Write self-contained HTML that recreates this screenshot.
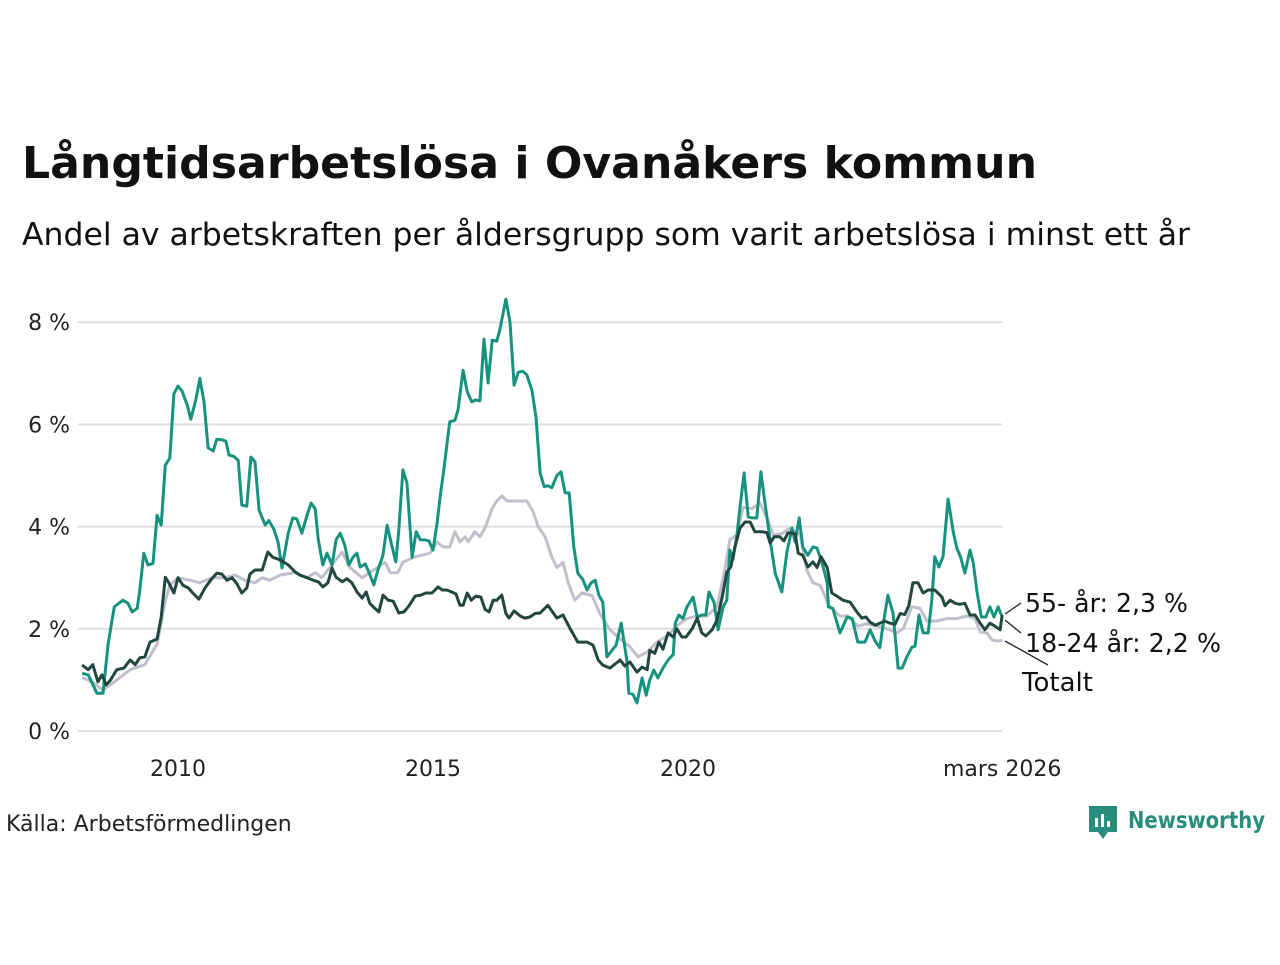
<!DOCTYPE html>
<html><head><meta charset="utf-8">
<style>
body{margin:0;background:#fff;width:1280px;height:960px;overflow:hidden;font-family:"Liberation Sans","DejaVu Sans",sans-serif;}
</style></head>
<body>
<svg width="1280" height="960" xmlns="http://www.w3.org/2000/svg">
<text x="22" y="178" font-size="44" font-weight="bold" fill="#111" textLength="1015" lengthAdjust="spacingAndGlyphs" font-family="'DejaVu Sans','Liberation Sans',sans-serif">Långtidsarbetslösa i Ovanåkers kommun</text>
<text x="22" y="245" font-size="31" fill="#111" textLength="1168" lengthAdjust="spacingAndGlyphs" font-family="'DejaVu Sans','Liberation Sans',sans-serif">Andel av arbetskraften per åldersgrupp som varit arbetslösa i minst ett år</text>
<g id="grid"></g>
<g id="ylab" font-size="22" fill="#222" text-anchor="end" font-family="'DejaVu Sans','Liberation Sans',sans-serif"></g>
<g id="xlab" font-size="22" fill="#222" text-anchor="middle" font-family="'DejaVu Sans','Liberation Sans',sans-serif"></g>
<g id="lines"></g>
<g stroke="#222" stroke-width="1.3" fill="none">
<path d="M1005 614 L1021 603"/><path d="M1005 620 L1021 633"/><path d="M1005 641 L1048 665"/>
</g>
<g font-size="26" fill="#111" font-family="'DejaVu Sans','Liberation Sans',sans-serif">
<text x="1025" y="612" textLength="163" lengthAdjust="spacingAndGlyphs">55- år: 2,3 %</text>
<text x="1025" y="652" textLength="196" lengthAdjust="spacingAndGlyphs">18-24 år: 2,2 %</text>
<text x="1022" y="691">Totalt</text>
</g>
<text x="6" y="831" font-size="22" fill="#222" font-family="'DejaVu Sans','Liberation Sans',sans-serif">Källa: Arbetsförmedlingen</text>
<g>
<path d="M1089 806 H1117 V832 H1108 L1103 839 L1098 832 H1089 Z" fill="#2a8c7c"/>
<rect x="1095" y="818" width="3" height="9" fill="#fff"/><rect x="1101" y="814" width="3" height="13" fill="#fff"/><rect x="1107" y="821" width="3" height="6" fill="#fff"/>
<text x="1128" y="828" font-size="23" font-weight="bold" fill="#2a8c7c" textLength="137" lengthAdjust="spacingAndGlyphs" font-family="'DejaVu Sans','Liberation Sans',sans-serif">Newsworthy</text>
</g>
</svg>
<script>
const yTicks=[0,2,4,6,8];
const yTickLabels=["0 %","2 %","4 %","6 %","8 %"];
const xTicks=[2010,2015,2020,2026.16];
const xTickLabels=["2010","2015","2020","mars 2026"];
const datesTot=[2008.12,2008.33,2008.53,2008.8,2009.06,2009.35,2009.59,2009.75,2009.84,2010,2010.24,2010.43,2010.67,2010.92,2011.12,2011.31,2011.51,2011.65,2011.8,2012.0,2012.29,2012.53,2012.69,2012.82,2012.98,2013.22,2013.37,2013.61,2013.76,2014.06,2014.16,2014.31,2014.41,2014.61,2014.94,2015.08,2015.2,2015.33,2015.43,2015.53,2015.63,2015.69,2015.82,2015.92,2016.02,2016.16,2016.25,2016.35,2016.45,2016.84,2016.96,2017.06,2017.2,2017.33,2017.43,2017.55,2017.65,2017.78,2017.92,2018.12,2018.27,2018.47,2018.67,2018.86,2019.02,2019.2,2019.39,2019.59,2019.8,2019.98,2020.18,2020.37,2020.57,2020.73,2020.82,2020.96,2021.08,2021.25,2021.41,2021.55,2021.67,2021.84,2022.0,2022.2,2022.33,2022.45,2022.59,2022.78,2022.98,2023.14,2023.33,2023.51,2023.71,2023.9,2024.1,2024.22,2024.39,2024.55,2024.69,2024.88,2025.08,2025.27,2025.47,2025.63,2025.73,2025.86,2025.96,2026.08,2026.16];
const valsTot=[1.05,0.95,0.8,1.0,1.2,1.3,1.7,2.55,2.85,3.0,2.95,2.9,3.0,3.0,3.05,2.95,2.9,3.0,2.95,3.05,3.1,3.0,3.1,3.0,3.2,3.5,3.2,3.0,3.1,3.3,3.1,3.1,3.3,3.4,3.48,3.7,3.6,3.6,3.9,3.7,3.8,3.7,3.9,3.8,3.97,4.36,4.5,4.6,4.5,4.5,4.3,4.0,3.8,3.4,3.2,3.3,2.9,2.56,2.7,2.65,2.3,1.98,1.8,1.65,1.45,1.55,1.74,1.86,2.07,2.2,2.25,2.25,2.43,3.2,3.74,3.84,4.38,4.35,4.46,4.17,3.84,3.86,3.97,3.84,3.15,2.9,2.85,2.43,2.25,2.25,2.05,2.1,2.05,2.0,1.92,2.0,2.43,2.4,2.15,2.15,2.2,2.2,2.25,2.2,1.94,1.92,1.78,1.76,1.78];
const datesYoung=[2008.12,2008.24,2008.41,2008.53,2008.63,2008.75,2008.92,2009.02,2009.1,2009.2,2009.25,2009.33,2009.41,2009.51,2009.59,2009.67,2009.75,2009.84,2009.92,2010.0,2010.08,2010.18,2010.25,2010.35,2010.43,2010.51,2010.59,2010.69,2010.76,2010.86,2010.94,2011.0,2011.1,2011.18,2011.25,2011.35,2011.43,2011.51,2011.59,2011.71,2011.78,2011.88,2011.96,2012.04,2012.16,2012.25,2012.33,2012.43,2012.53,2012.61,2012.69,2012.75,2012.84,2012.92,2013.02,2013.1,2013.18,2013.27,2013.35,2013.43,2013.51,2013.57,2013.67,2013.75,2013.84,2013.92,2014.02,2014.1,2014.18,2014.27,2014.33,2014.41,2014.49,2014.59,2014.67,2014.75,2014.84,2014.92,2015.0,2015.08,2015.14,2015.22,2015.29,2015.33,2015.43,2015.49,2015.59,2015.67,2015.76,2015.84,2015.92,2016.0,2016.08,2016.16,2016.25,2016.31,2016.43,2016.51,2016.59,2016.67,2016.76,2016.84,2016.94,2017.02,2017.1,2017.18,2017.25,2017.33,2017.43,2017.51,2017.59,2017.67,2017.76,2017.84,2017.94,2018.02,2018.1,2018.18,2018.25,2018.33,2018.41,2018.51,2018.59,2018.69,2018.8,2018.84,2018.92,2019.0,2019.1,2019.18,2019.25,2019.33,2019.41,2019.51,2019.61,2019.71,2019.75,2019.82,2019.9,2019.98,2020.1,2020.18,2020.27,2020.35,2020.41,2020.51,2020.59,2020.69,2020.76,2020.82,2020.88,2020.96,2021.02,2021.1,2021.18,2021.25,2021.35,2021.43,2021.51,2021.61,2021.71,2021.84,2021.94,2022.04,2022.1,2022.18,2022.25,2022.35,2022.45,2022.53,2022.63,2022.73,2022.75,2022.84,2022.98,2023.12,2023.22,2023.33,2023.47,2023.57,2023.67,2023.76,2023.82,2023.92,2024.02,2024.12,2024.2,2024.29,2024.39,2024.45,2024.53,2024.61,2024.71,2024.78,2024.84,2024.92,2025.0,2025.1,2025.2,2025.27,2025.35,2025.43,2025.53,2025.59,2025.67,2025.75,2025.84,2025.92,2026.0,2026.08,2026.16];
const valsYoung=[1.13,1.1,0.74,0.74,1.7,2.43,2.56,2.5,2.33,2.4,2.76,3.48,3.25,3.28,4.22,4.03,5.2,5.34,6.6,6.75,6.65,6.38,6.1,6.48,6.9,6.44,5.54,5.48,5.71,5.7,5.67,5.4,5.37,5.3,4.42,4.4,5.36,5.27,4.32,4.03,4.12,3.95,3.7,3.19,3.87,4.17,4.15,3.87,4.22,4.46,4.35,3.74,3.25,3.48,3.25,3.74,3.87,3.64,3.25,3.4,3.48,3.21,3.27,3.09,2.86,3.15,3.44,4.03,3.68,3.31,3.93,5.11,4.85,3.4,3.9,3.74,3.74,3.72,3.54,4.07,4.58,5.17,5.75,6.05,6.08,6.28,7.06,6.64,6.44,6.48,6.46,7.67,6.81,7.65,7.63,7.85,8.45,8.0,6.77,7.02,7.04,6.97,6.67,6.14,5.05,4.78,4.8,4.76,5.0,5.07,4.66,4.66,3.6,3.09,2.96,2.76,2.9,2.95,2.66,2.52,1.45,1.58,1.68,2.11,1.39,0.74,0.72,0.55,1.04,0.7,1.0,1.19,1.04,1.23,1.39,1.5,2.11,2.27,2.2,2.43,2.62,2.23,2.27,2.27,2.72,2.52,1.98,2.43,2.56,3.54,3.35,3.84,4.38,5.05,4.19,4.17,4.17,5.07,4.46,3.74,3.09,2.72,3.5,3.97,3.7,4.17,3.6,3.44,3.6,3.58,3.29,2.9,2.43,2.4,1.92,2.23,2.2,1.74,1.74,1.98,1.76,1.63,2.04,2.66,2.31,1.23,1.23,1.45,1.64,1.66,2.27,1.92,1.92,2.56,3.41,3.21,3.41,4.54,3.9,3.58,3.39,3.09,3.54,3.31,2.7,2.23,2.23,2.43,2.23,2.43,2.23];
const datesOld=[2008.12,2008.24,2008.33,2008.43,2008.51,2008.59,2008.67,2008.8,2008.94,2009.06,2009.16,2009.25,2009.35,2009.45,2009.59,2009.67,2009.75,2009.82,2009.92,2010,2010.1,2010.2,2010.29,2010.41,2010.53,2010.67,2010.76,2010.86,2010.96,2011.06,2011.16,2011.25,2011.35,2011.41,2011.51,2011.65,2011.76,2011.86,2012.0,2012.16,2012.29,2012.39,2012.53,2012.65,2012.75,2012.84,2012.94,2013.02,2013.1,2013.22,2013.31,2013.41,2013.51,2013.61,2013.69,2013.76,2013.86,2013.94,2014.02,2014.12,2014.22,2014.33,2014.43,2014.53,2014.65,2014.76,2014.86,2014.98,2015.1,2015.18,2015.27,2015.37,2015.45,2015.53,2015.59,2015.67,2015.75,2015.84,2015.94,2016.02,2016.1,2016.18,2016.25,2016.35,2016.43,2016.49,2016.59,2016.71,2016.8,2016.9,2017.0,2017.1,2017.25,2017.43,2017.55,2017.69,2017.84,2018.02,2018.14,2018.24,2018.33,2018.47,2018.67,2018.76,2018.86,2019.0,2019.1,2019.2,2019.25,2019.35,2019.43,2019.51,2019.61,2019.71,2019.78,2019.88,2019.96,2020.08,2020.18,2020.27,2020.35,2020.47,2020.57,2020.67,2020.76,2020.84,2020.92,2021.02,2021.12,2021.22,2021.31,2021.45,2021.55,2021.61,2021.69,2021.8,2021.88,2021.96,2022.1,2022.16,2022.25,2022.35,2022.45,2022.53,2022.61,2022.73,2022.82,2022.92,2023.04,2023.18,2023.31,2023.41,2023.49,2023.57,2023.67,2023.76,2023.86,2023.96,2024.06,2024.16,2024.25,2024.33,2024.41,2024.51,2024.61,2024.71,2024.84,2024.98,2025.04,2025.14,2025.24,2025.33,2025.43,2025.53,2025.63,2025.73,2025.82,2025.92,2026.02,2026.12,2026.16];
const valsOld=[1.29,1.2,1.3,0.96,1.1,0.9,0.99,1.2,1.23,1.39,1.3,1.43,1.45,1.74,1.8,2.23,3.01,2.9,2.7,3.0,2.85,2.8,2.7,2.58,2.8,2.99,3.09,3.07,2.95,3.0,2.87,2.7,2.8,3.07,3.15,3.15,3.5,3.4,3.35,3.25,3.12,3.05,3.0,2.95,2.92,2.82,2.9,3.19,3.01,2.92,2.98,2.9,2.72,2.6,2.72,2.5,2.4,2.33,2.66,2.56,2.54,2.31,2.33,2.45,2.64,2.66,2.7,2.7,2.82,2.76,2.76,2.72,2.68,2.46,2.46,2.7,2.56,2.64,2.62,2.38,2.33,2.56,2.56,2.66,2.3,2.21,2.35,2.25,2.21,2.23,2.3,2.31,2.46,2.21,2.27,2.0,1.74,1.74,1.68,1.39,1.29,1.23,1.39,1.27,1.35,1.15,1.25,1.2,1.58,1.52,1.74,1.6,1.92,1.84,2.0,1.84,1.84,2.0,2.21,1.92,1.86,1.98,2.17,2.62,3.11,3.21,3.6,3.97,4.09,4.09,3.9,3.9,3.88,3.68,3.8,3.8,3.72,3.88,3.86,3.48,3.44,3.21,3.31,3.2,3.41,3.2,2.7,2.64,2.56,2.52,2.33,2.21,2.23,2.13,2.07,2.11,2.15,2.11,2.09,2.3,2.28,2.45,2.9,2.9,2.7,2.76,2.76,2.62,2.45,2.56,2.5,2.48,2.5,2.27,2.27,2.11,1.98,2.11,2.05,1.98,2.27];

const NS='http://www.w3.org/2000/svg';
function xs(d){return 178+(d-2010)*51;}
function ys(v){return 731-v*51.1;}
const grid=document.getElementById('grid'),ylab=document.getElementById('ylab'),xlab=document.getElementById('xlab'),lines=document.getElementById('lines');
yTicks.forEach((t,i)=>{
  const l=document.createElementNS(NS,'line');
  l.setAttribute('x1',78);l.setAttribute('x2',1002);l.setAttribute('y1',ys(t));l.setAttribute('y2',ys(t));
  l.setAttribute('stroke','#e0e0e3');l.setAttribute('stroke-width','2');
  
  
  grid.appendChild(l);
  const tx=document.createElementNS(NS,'text');
  tx.setAttribute('x',70);tx.setAttribute('y',ys(t)+8);tx.textContent=yTickLabels[i];
  
  
  ylab.appendChild(tx);
});
xTicks.forEach((t,i)=>{
  const tx=document.createElementNS(NS,'text');
  tx.setAttribute('x',xs(t));tx.setAttribute('y',776);tx.textContent=xTickLabels[i];
  
  
  xlab.appendChild(tx);
});
function draw(dates,vals,color,name){
  const p=document.createElementNS(NS,'path');
  p.setAttribute('d',dates.map((d,i)=>(i?'L':'M')+xs(d).toFixed(1)+' '+ys(vals[i]).toFixed(1)).join(' '));
  p.setAttribute('fill','none');p.setAttribute('stroke',color);p.setAttribute('stroke-width','3');p.setAttribute('stroke-linejoin','round');
  
  
  lines.appendChild(p);
}
draw(datesTot,valsTot,'#c2bfcc','line-totalt');
draw(datesYoung,valsYoung,'#17927f','line-18-24');
draw(datesOld,valsOld,'#22473f','line-55');
</script>
</body></html>
